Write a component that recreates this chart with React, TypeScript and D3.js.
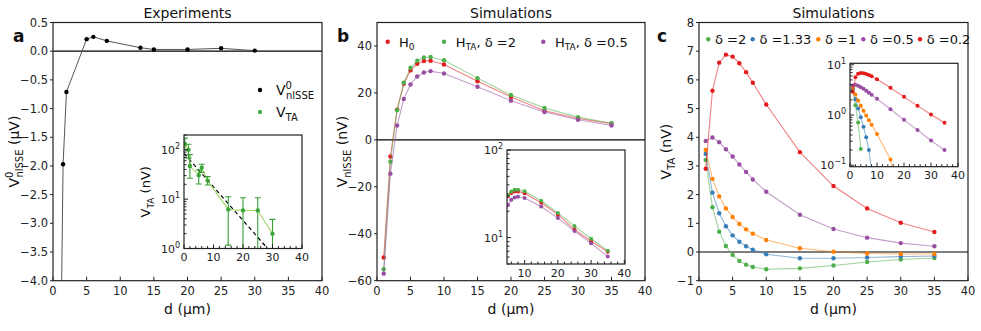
import React from 'react';
import * as d3 from 'd3';

const FONT = 'DejaVu Sans, Verdana, sans-serif';

// panel a: experiments, V0_nlSSE (uV)
const dExp = [1, 1.5, 2, 5, 6, 8, 13, 15, 20, 25, 30];
const vExp = [-6.8, -1.97, -0.71, 0.21, 0.25, 0.18, 0.06, 0.03, 0.03, 0.05, 0.01];

// inset a: V_TA (nV) with error bars
const dTA = [0.3, 1.5, 2, 5, 6, 8, 15, 20, 25, 30];
const vTA = [132, 100, 47, 30.5, 43.6, 23.8, 6.2, 5.9, 5.9, 2.0];
const vTALo = [100, 68, 26.5, 20.3, 35, 19.4, 1.17, 0.5, 0.5, 0.5];
const vTAHi = [173, 130, 80, 39, 51, 28.7, 11.2, 10.7, 10.7, 3.9];
const fitD = [0, 30];
const fitV = [85, 0.77];

// panel b: simulations, V_nlSSE (nV)
const dSim = [1, 2, 3, 4, 5, 6, 7, 8, 10, 15, 20, 25, 30, 35];
const vH0 = [-50.1, -7.1, 12.9, 23.9, 29.6, 32.4, 33.6, 33.7, 32.1, 25.0, 18.3, 12.4, 9.1, 6.9];
const vHTA2 = [-55.1, -9.3, 12.6, 24.3, 30.7, 33.7, 35.1, 35.3, 33.9, 26.3, 19.1, 13.6, 9.7, 7.1];
const vHTA05 = [-57.0, -14.4, 6.1, 17.4, 23.6, 27.0, 28.7, 29.3, 28.3, 22.6, 16.7, 11.9, 8.6, 6.1];

// panel c: simulations, V_TA (nV)
const vD2 = [3.21, 1.56, 0.71, 0.21, -0.10, -0.31, -0.44, -0.52, -0.60, -0.57, -0.47, -0.35, -0.26, -0.21];
const vD133 = [3.42, 2.07, 1.35, 0.90, 0.58, 0.36, 0.20, 0.08, -0.08, -0.22, -0.22, -0.19, -0.16, -0.14];
const vD1 = [3.56, 2.55, 1.94, 1.52, 1.22, 0.98, 0.79, 0.64, 0.42, 0.13, 0.01, -0.05, -0.07, -0.07];
const vD05 = [3.87, 3.99, 3.83, 3.58, 3.33, 3.05, 2.79, 2.53, 2.10, 1.30, 0.80, 0.50, 0.31, 0.20];
const vD02 = [2.90, 5.62, 6.60, 6.88, 6.81, 6.58, 6.27, 5.90, 5.14, 3.48, 2.30, 1.52, 1.02, 0.70];

const xTicks = [0, 5, 10, 15, 20, 25, 30, 35, 40];
const aYTicks = [-4, -3.5, -3, -2.5, -2, -1.5, -1, -0.5, 0, 0.5];
const bYTicks = [-60, -40, -20, 0, 20, 40];
const cYTicks = [-1, 0, 1, 2, 3, 4, 5, 6, 7, 8];
const insetXTicks = [0, 10, 20, 30, 40];
const insetBXTicks = [10, 20, 30, 40];
const insetXMinor = [2, 4, 6, 8, 12, 14, 16, 18, 22, 24, 26, 28, 32, 34, 36, 38];

const RED = '#e41a1c';
const GREEN = '#4daf4a';
const BLUE = '#377eb8';
const ORANGE = '#ff7f00';
const PURPLE = '#984ea3';

const minus = (s: string) => s.replace('-', '\u2212');
const fmt = (digits: number) => (v: number) => minus(v.toFixed(digits));

const logTicks = (lo: number, hi: number) => {
  const out: { v: number; major: boolean }[] = [];
  for (let e = Math.floor(Math.log10(lo)); e <= Math.ceil(Math.log10(hi)); e++) {
    for (let k = 1; k < 10; k++) {
      const v = k * Math.pow(10, e);
      if (v >= lo * 0.999 && v <= hi * 1.001) out.push({ v, major: k === 1 });
    }
  }
  return out;
};

const PA = { x0: 53, x1: 322, y0: 22.5, y1: 280.7 };
const PB = { x0: 377, x1: 645, y0: 22.5, y1: 280.7 };
const PC = { x0: 699, x1: 968, y0: 22.5, y1: 280.7 };
const IA = { x0: 184, x1: 302, y0: 135, y1: 248.5 };
const IB = { x0: 507, x1: 625, y0: 150, y1: 264 };
const IC = { x0: 850, x1: 958, y0: 63.3, y1: 166.7 };

function MainAxes({ p, xs, ys, yTicks, yFmt }: any) {
  return (
    <g fontFamily={FONT} fontSize={11.5} fill="#222">
      {xTicks.map(t => (
        <g key={'x' + t}>
          <line x1={xs(t)} x2={xs(t)} y1={p.y1} y2={p.y1 - 4} stroke="#222" />
          <text x={xs(t)} y={p.y1 + 14} textAnchor="middle">{t}</text>
        </g>
      ))}
      {yTicks.map((t: number) => (
        <g key={'y' + t}>
          <line x1={p.x0} x2={p.x0 - 3} y1={ys(t)} y2={ys(t)} stroke="#222" />
          <text x={p.x0 - 5} y={ys(t)} textAnchor="end" dominantBaseline="central">{yFmt(t)}</text>
        </g>
      ))}
      <rect x={p.x0} y={p.y0} width={p.x1 - p.x0} height={p.y1 - p.y0} fill="none" stroke="#222" strokeWidth={1.2} />
    </g>
  );
}

function InsetAxes({ p, xs, ys, xt, yDomain }: any) {
  const lt = logTicks(yDomain[0], yDomain[1]);
  return (
    <g fontFamily={FONT} fontSize={11} fill="#222">
      {xt.map((t: number) => (
        <g key={'x' + t}>
          <line x1={xs(t)} x2={xs(t)} y1={p.y1} y2={p.y1 - 4} stroke="#222" />
          <text x={xs(t)} y={p.y1 + 12.5} textAnchor="middle">{t}</text>
        </g>
      ))}
      {insetXMinor.filter(t => t >= xs.domain()[0] && t <= xs.domain()[1]).map(t => (
        <line key={'xm' + t} x1={xs(t)} x2={xs(t)} y1={p.y1} y2={p.y1 - 2.5} stroke="#222" />
      ))}
      {lt.map(({ v, major }) => (
        <g key={'y' + v}>
          <line x1={p.x0} x2={p.x0 + (major ? 4 : 2.5)} y1={ys(v)} y2={ys(v)} stroke="#222" />
          {major && (
            <text x={p.x0 - 4} y={ys(v) + 4} textAnchor="end">
              10<tspan dy={-5} fontSize={8}>{minus(String(Math.round(Math.log10(v))))}</tspan>
            </text>
          )}
        </g>
      ))}
      <rect x={p.x0} y={p.y0} width={p.x1 - p.x0} height={p.y1 - p.y0} fill="none" stroke="#222" strokeWidth={1.2} />
    </g>
  );
}

function Series({ xs, ys, d, v, color, r = 2.2, log = false }: any) {
  const pts = d.map((x: number, i: number) => [x, v[i]] as [number, number]);
  const line = d3.line<[number, number]>()
    .defined(q => !log || q[1] > 0)
    .x(q => xs(q[0]))
    .y(q => ys(q[1]));
  return (
    <g>
      <path d={line(pts) || ''} fill="none" stroke={color} strokeOpacity={0.55} strokeWidth={1.1} />
      {pts.filter(q => !log || q[1] > 0).map((q, i) => (
        <circle key={i} cx={xs(q[0])} cy={ys(q[1])} r={r} fill={color} />
      ))}
    </g>
  );
}

const clip = (id: string, p: any) => (
  <clipPath id={id}>
    <rect x={p.x0} y={p.y0} width={p.x1 - p.x0} height={p.y1 - p.y0} />
  </clipPath>
);

export default function App() {
  const xa = d3.scaleLinear().domain([0, 40]).range([PA.x0, PA.x1]);
  const ya = d3.scaleLinear().domain([-4, 0.5]).range([PA.y1, PA.y0]);
  const xb = d3.scaleLinear().domain([0, 40]).range([PB.x0, PB.x1]);
  const yb = d3.scaleLinear().domain([-60, 50]).range([PB.y1, PB.y0]);
  const xc = d3.scaleLinear().domain([0, 40]).range([PC.x0, PC.x1]);
  const yc = d3.scaleLinear().domain([-1, 8]).range([PC.y1, PC.y0]);

  const iaY = [1, 200];
  const xia = d3.scaleLinear().domain([0, 40]).range([IA.x0, IA.x1]);
  const yia = d3.scaleLog().domain(iaY).range([IA.y1, IA.y0]);
  const ibY = [5, 100];
  const xib = d3.scaleLinear().domain([4.7, 40.2]).range([IB.x0, IB.x1]);
  const yib = d3.scaleLog().domain(ibY).range([IB.y1, IB.y0]);
  const icY = [Math.pow(10, -1.03), Math.pow(10, 1.03)];
  const xic = d3.scaleLinear().domain([0, 40]).range([IC.x0, IC.x1]);
  const yic = d3.scaleLog().domain(icY).range([IC.y1, IC.y0]);

  const fitLine = d3.line<number>().x((_, i) => xia(fitD[i])).y(v => yia(v));

  const cSeries = [
    { v: vD2, c: GREEN }, { v: vD133, c: BLUE }, { v: vD1, c: ORANGE },
    { v: vD05, c: PURPLE }, { v: vD02, c: RED },
  ];
  const bSeries = [
    { v: vH0, c: RED }, { v: vHTA2, c: GREEN }, { v: vHTA05, c: PURPLE },
  ];

  return (
    <svg width={981} height={331} style={{ position: 'absolute', left: 0, top: 0, background: '#fff' }}>
      <defs>
        {clip('cpa', PA)}{clip('cpb', PB)}{clip('cpc', PC)}
        {clip('cia', IA)}{clip('cib', IB)}{clip('cic', IC)}
      </defs>

      {/* titles and panel letters */}
      <g fontFamily={FONT} fill="#111">
        <text x={(PA.x0 + PA.x1) / 2} y={18} fontSize={14} textAnchor="middle">Experiments</text>
        <text x={(PB.x0 + PB.x1) / 2} y={18} fontSize={14} textAnchor="middle">Simulations</text>
        <text x={(PC.x0 + PC.x1) / 2} y={18} fontSize={14} textAnchor="middle">Simulations</text>
        <text x={13} y={42} fontSize={17} fontWeight="bold">a</text>
        <text x={337} y={42} fontSize={17} fontWeight="bold">b</text>
        <text x={657} y={42} fontSize={17} fontWeight="bold">c</text>
        {[PA, PB, PC].map((p, i) => (
          <text key={i} x={(p.x0 + p.x1) / 2} y={314} fontSize={14} textAnchor="middle">d (μm)</text>
        ))}
        <text transform={`translate(19,${(PA.y0 + PA.y1) / 2}) rotate(-90)`} fontSize={14} textAnchor="middle">
          V<tspan fontSize={10} dy={-6}>0</tspan><tspan fontSize={10} dx={-6} dy={10}>nlSSE</tspan><tspan dy={-4}> (μV)</tspan>
        </text>
        <text transform={`translate(347,${(PB.y0 + PB.y1) / 2}) rotate(-90)`} fontSize={14} textAnchor="middle">
          V<tspan fontSize={10} dy={4}>nlSSE</tspan><tspan dy={-4}> (nV)</tspan>
        </text>
        <text transform={`translate(671,${(PC.y0 + PC.y1) / 2}) rotate(-90)`} fontSize={14} textAnchor="middle">
          V<tspan fontSize={10} dy={4}>TA</tspan><tspan dy={-4}> (nV)</tspan>
        </text>
        <text transform={`translate(150,${(IA.y0 + IA.y1) / 2}) rotate(-90)`} fontSize={13} textAnchor="middle">
          V<tspan fontSize={9} dy={4}>TA</tspan><tspan dy={-4}> (nV)</tspan>
        </text>
      </g>

      {/* panel a */}
      <g clipPath="url(#cpa)">
        <line x1={PA.x0} x2={PA.x1} y1={ya(0)} y2={ya(0)} stroke="#000" strokeWidth={1.2} />
        <path d={d3.line<number>().x((_, i) => xa(dExp[i])).y(v => ya(v))(vExp) || ''} fill="none" stroke="#555" strokeWidth={1} />
        {vExp.map((v, i) => <circle key={i} cx={xa(dExp[i])} cy={ya(v)} r={2.2} fill="#000" />)}
      </g>
      <MainAxes p={PA} xs={xa} ys={ya} yTicks={aYTicks} yFmt={fmt(1)} />
      <g fontFamily={FONT} fontSize={14} fill="#111">
        <circle cx={260} cy={90} r={2.2} fill="#000" />
        <text x={276} y={95}>V<tspan fontSize={10} dy={-6}>0</tspan><tspan fontSize={10} dx={-6} dy={10}>nlSSE</tspan></text>
        <circle cx={260} cy={112} r={2.2} fill={GREEN} />
        <text x={276} y={117}>V<tspan fontSize={10} dy={4}>TA</tspan></text>
      </g>

      {/* inset a */}
      <rect x={IA.x0} y={IA.y0} width={IA.x1 - IA.x0} height={IA.y1 - IA.y0} fill="#fff" />
      <g clipPath="url(#cia)">
        <path d={fitLine(fitV) || ''} fill="none" stroke="#000" strokeWidth={1.2} strokeDasharray="4,3" />
        <path d={d3.line<number>().x((_, i) => xia(dTA[i])).y(v => yia(v))(vTA) || ''} fill="none" stroke="#a6d96a" strokeWidth={1.1} />
        {dTA.map((d, i) => (
          <g key={i} stroke="#3a9e37" strokeWidth={1.1}>
            <line x1={xia(d)} x2={xia(d)} y1={yia(vTALo[i])} y2={yia(vTAHi[i])} />
            <line x1={xia(d) - 3} x2={xia(d) + 3} y1={yia(vTAHi[i])} y2={yia(vTAHi[i])} />
            <line x1={xia(d) - 3} x2={xia(d) + 3} y1={yia(vTALo[i])} y2={yia(vTALo[i])} />
          </g>
        ))}
        {vTA.map((v, i) => <circle key={i} cx={xia(dTA[i])} cy={yia(v)} r={2.2} fill="#3aa639" />)}
      </g>
      <InsetAxes p={IA} xs={xia} ys={yia} xt={insetXTicks} yDomain={iaY} />

      {/* panel b */}
      <g clipPath="url(#cpb)">
        <line x1={PB.x0} x2={PB.x1} y1={yb(0)} y2={yb(0)} stroke="#000" strokeWidth={1.2} />
        {bSeries.map((s, i) => <Series key={i} xs={xb} ys={yb} d={dSim} v={s.v} color={s.c} />)}
      </g>
      <MainAxes p={PB} xs={xb} ys={yb} yTicks={bYTicks} yFmt={fmt(0)} />
      <g fontFamily={FONT} fontSize={13} fill="#111">
        <circle cx={387.7} cy={41.7} r={2.2} fill={RED} />
        <text x={399} y={46.5}>H<tspan fontSize={9} dy={3}>0</tspan></text>
        <circle cx={444} cy={41.7} r={2.2} fill={GREEN} />
        <text x={455.7} y={46.5}>H<tspan fontSize={9} dy={3}>TA</tspan><tspan dy={-3}>, δ =2</tspan></text>
        <circle cx={543.3} cy={41.7} r={2.2} fill={PURPLE} />
        <text x={555} y={46.5}>H<tspan fontSize={9} dy={3}>TA</tspan><tspan dy={-3}>, δ =0.5</tspan></text>
      </g>

      {/* inset b */}
      <rect x={IB.x0} y={IB.y0} width={IB.x1 - IB.x0} height={IB.y1 - IB.y0} fill="#fff" />
      <g clipPath="url(#cib)">
        {bSeries.map((s, i) => {
          const keep = dSim.map((d, j) => j).filter(j => dSim[j] >= 4.7);
          return <Series key={i} xs={xib} ys={yib} d={keep.map(j => dSim[j])} v={keep.map(j => s.v[j])} color={s.c} r={2} log />;
        })}
      </g>
      <InsetAxes p={IB} xs={xib} ys={yib} xt={insetBXTicks} yDomain={ibY} />

      {/* panel c */}
      <g clipPath="url(#cpc)">
        <line x1={PC.x0} x2={PC.x1} y1={yc(0)} y2={yc(0)} stroke="#000" strokeWidth={1.2} />
        {cSeries.map((s, i) => <Series key={i} xs={xc} ys={yc} d={dSim} v={s.v} color={s.c} />)}
      </g>
      <MainAxes p={PC} xs={xc} ys={yc} yTicks={cYTicks} yFmt={fmt(0)} />
      <g fontFamily={FONT} fontSize={13} fill="#111">
        {[
          { x: 708.3, c: GREEN, t: 'δ =2' },
          { x: 752.7, c: BLUE, t: 'δ =1.33' },
          { x: 818.3, c: ORANGE, t: 'δ =1' },
          { x: 863.3, c: PURPLE, t: 'δ =0.5' },
          { x: 920, c: RED, t: 'δ =0.2' },
        ].map((l, i) => (
          <g key={i}>
            <circle cx={l.x} cy={39.3} r={2.2} fill={l.c} />
            <text x={l.x + 6.7} y={44}>{l.t}</text>
          </g>
        ))}
      </g>

      {/* inset c */}
      <rect x={IC.x0} y={IC.y0} width={IC.x1 - IC.x0} height={IC.y1 - IC.y0} fill="#fff" />
      <g clipPath="url(#cic)">
        {cSeries.map((s, i) => <Series key={i} xs={xic} ys={yic} d={dSim} v={s.v} color={s.c} r={2} log />)}
      </g>
      <InsetAxes p={IC} xs={xic} ys={yic} xt={insetXTicks} yDomain={icY} />
    </svg>
  );
}
